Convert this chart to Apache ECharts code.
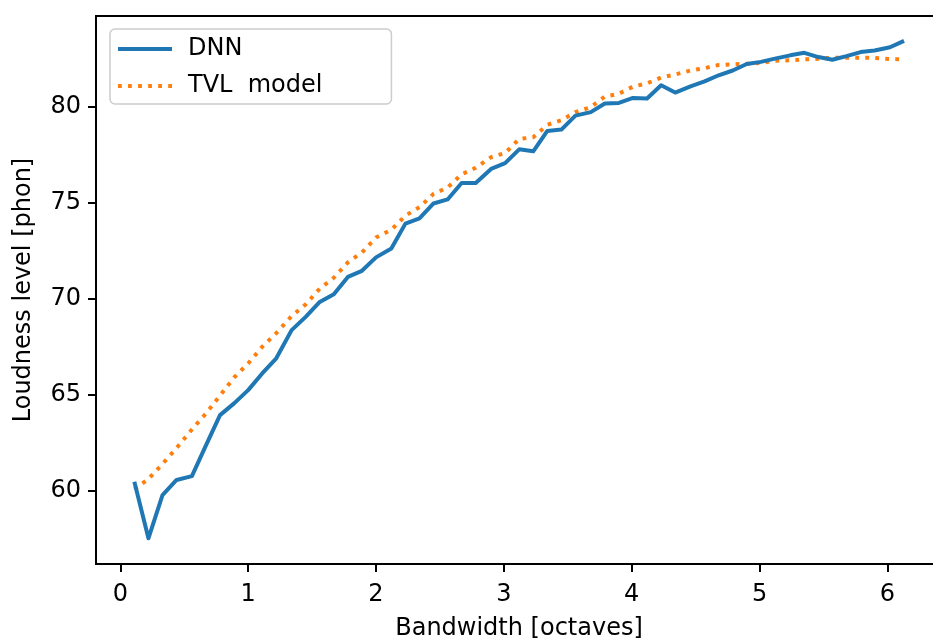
<!DOCTYPE html>
<html>
<head>
<meta charset="utf-8">
<script src="https://cdn.jsdelivr.net/npm/echarts@6/dist/echarts.min.js"></script>
<style>html,body{margin:0;padding:0;background:#fff;}#c{width:933px;height:638px;}</style>
</head>
<body>
<div id="c"></div>
<script>
const bandwidth = [0.11,0.22,0.33,0.44,0.56,0.67,0.78,0.89,1.00,1.11,1.22,1.34,1.45,1.56,1.67,1.78,1.89,2.00,2.12,2.23,2.34,2.45,2.56,2.67,2.78,2.90,3.01,3.12,3.23,3.34,3.45,3.56,3.68,3.79,3.90,4.01,4.12,4.23,4.34,4.46,4.57,4.68,4.79,4.90,5.01,5.12,5.24,5.35,5.46,5.57,5.68,5.79,5.90,6.02,6.13];
const dnn = [60.45,57.5,59.75,60.54,60.74,62.34,63.92,64.53,65.22,66.09,66.88,68.35,69.04,69.82,70.22,71.12,71.44,72.14,72.6,73.9,74.17,74.95,75.16,76.02,76.02,76.75,77.05,77.77,77.67,78.73,78.8,79.53,79.71,80.16,80.19,80.45,80.42,81.11,80.73,81.05,81.31,81.63,81.88,82.22,82.33,82.5,82.67,82.8,82.58,82.44,82.63,82.84,82.92,83.09,83.42];
const tvl = [60.05,60.59,61.37,62.2,63.17,64.0,64.94,65.88,66.61,67.48,68.19,69.08,69.69,70.51,71.08,71.88,72.39,73.18,73.58,74.31,74.76,75.45,75.78,76.47,76.81,77.36,77.58,78.31,78.4,79.05,79.29,79.71,79.97,80.52,80.67,81.04,81.21,81.51,81.67,81.88,82.0,82.17,82.2,82.23,82.27,82.39,82.41,82.46,82.49,82.55,82.54,82.55,82.53,82.48,82.46];
const xTicks = [0,1,2,3,4,5,6];
const yTicks = [60,65,70,75,80];

const FONT = 'DejaVu Sans';
const SOLID_ICON = 'path://M0,0H54V3.8H0Z';
const DOT_ICON = 'path://M0,0h3.8v3.8h-3.8zM10.05,0h3.8v3.8h-3.8zM20.1,0h3.8v3.8h-3.8zM30.15,0h3.8v3.8h-3.8zM40.2,0h3.8v3.8h-3.8zM50.2,0h3.8v3.8h-3.8z';

const chart = echarts.init(document.getElementById('c'), null, {renderer:'canvas'});
const pairs = (ys) => bandwidth.map((x,i)=>[x, ys[i]]);
chart.setOption({
  animation:false,
  grid:{left:96, right:-9, top:16, bottom:74, containLabel:false, outerBoundsMode:'none',
        show:true, borderColor:'#000', borderWidth:2, backgroundColor:'transparent'},
  legend:{
    orient:'vertical', left:110, top:29,
    padding:[8,69,6,8], itemGap:13, itemWidth:54, itemHeight:14,
    backgroundColor:'rgba(255,255,255,0.8)', borderColor:'#cccccc', borderWidth:1.5, borderRadius:5,
    itemStyle:{borderWidth:0},
    lineStyle:{width:0},
    textStyle:{fontFamily:FONT, fontSize:24, color:'#000', padding:[0,0,0,11]},
    data:[{name:'DNN', icon:SOLID_ICON},{name:'TVL  model', icon:DOT_ICON}]
  },
  xAxis:{
    type:'value', min:-0.19, max:6.427,
    name:'Bandwidth [octaves]', nameLocation:'middle', nameGap:53,
    nameTextStyle:{fontFamily:FONT, fontSize:24, color:'#000'},
    axisLine:{show:true, onZero:false, lineStyle:{color:'#000', width:2}},
    axisTick:{show:true, length:8, lineStyle:{color:'#000', width:2}, customValues:xTicks},
    axisLabel:{fontFamily:FONT, fontSize:24, color:'#000', margin:19, customValues:xTicks},
    splitLine:{show:false}
  },
  yAxis:{
    type:'value', min:56.16, max:84.72,
    name:'Loudness level [phon]', nameLocation:'middle', nameGap:60,
    nameTextStyle:{fontFamily:FONT, fontSize:24, color:'#000'},
    axisLine:{show:true, onZero:false, lineStyle:{color:'#000', width:2}},
    axisTick:{show:true, length:8, lineStyle:{color:'#000', width:2}, customValues:yTicks},
    axisLabel:{fontFamily:FONT, fontSize:24, color:'#000', margin:15, customValues:yTicks},
    splitLine:{show:false}
  },
  series:[
    {name:'DNN', type:'line', data:pairs(dnn), symbol:'none', showSymbol:false,
     lineStyle:{color:'#1f77b4', width:4, cap:'butt', join:'round'}, itemStyle:{color:'#1f77b4'}, z:3},
    {name:'TVL  model', type:'line', data:pairs(tvl), symbol:'none', showSymbol:false,
     lineStyle:{color:'#ff7f0e', width:4, type:[3.8,6.2], cap:'butt'}, itemStyle:{color:'#ff7f0e'}, z:2}
  ]
});
</script>
</body>
</html>
